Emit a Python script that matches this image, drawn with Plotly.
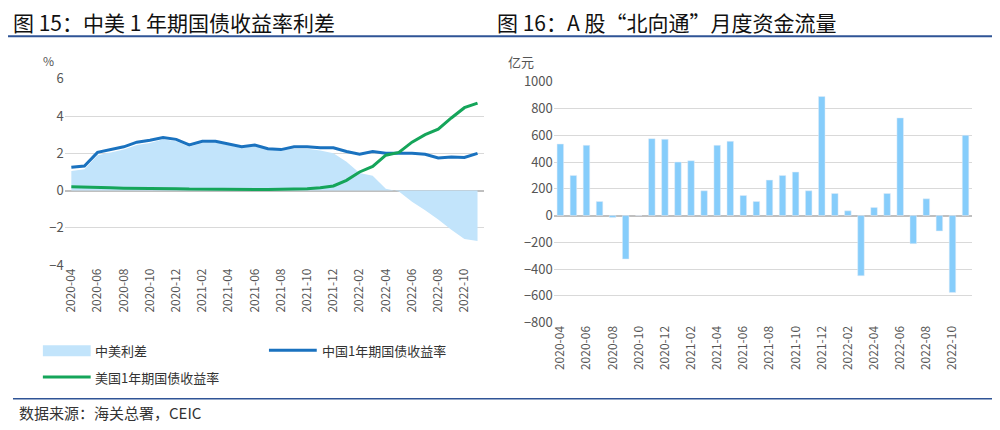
import plotly.graph_objects as go

months = [f"{y}-{m:02d}" for y, m in
          [(2020, m) for m in range(4, 13)] + [(2021, m) for m in range(1, 13)] + [(2022, m) for m in range(1, 12)]]
cn_yield = [1.25,1.32,2.05,2.2,2.35,2.6,2.7,2.85,2.75,2.45,2.65,2.65,2.5,2.35,2.45,2.25,2.2,2.35,2.35,2.3,2.3,2.1,1.95,2.1,2.0,2.0,2.0,1.95,1.75,1.8,1.78,2.0]
us_yield = [0.2,0.17,0.17,0.15,0.13,0.13,0.12,0.1,0.1,0.08,0.07,0.06,0.05,0.04,0.05,0.06,0.07,0.08,0.1,0.15,0.25,0.55,1.0,1.3,1.9,2.05,2.6,3.0,3.3,3.9,4.45,4.7]
spread = [1.05,1.15,1.9,2.05,2.2,2.45,2.55,2.75,2.65,2.35,2.55,2.6,2.45,2.3,2.4,2.2,2.15,2.25,2.25,2.15,2.0,1.55,0.95,0.8,0.1,-0.05,-0.6,-1.05,-1.55,-2.1,-2.6,-2.7]
flows = [535,300,525,105,-15,-325,0,575,570,400,410,185,525,555,150,105,265,300,325,185,890,165,35,-450,60,165,730,-210,125,-115,-575,600]
tick_labels = months[::2]

W, H, OFF = 984, 414, 8
def px(x):  # desired screen x -> paper fraction (empirical correction)
    return (x - 1 - OFF) / W
def py(y):
    t = (y - 7.9) / 0.963
    return 1 - (t - OFF) / H

FONT = "Noto Sans CJK SC"
fig = go.Figure()
fig.add_trace(go.Scatter(x=months, y=spread, fill="tozeroy", mode="none", fillcolor="#c2e4fb", name="中美利差", xaxis="x", yaxis="y"))
fig.add_trace(go.Scatter(x=months, y=cn_yield, mode="lines", line=dict(color="#1a72bf", width=3), name="中国1年期国债收益率", xaxis="x", yaxis="y"))
fig.add_trace(go.Scatter(x=months, y=us_yield, mode="lines", line=dict(color="#15a55a", width=3), name="美国1年期国债收益率", xaxis="x", yaxis="y"))
fig.add_trace(go.Bar(x=months, y=flows, marker_color="#86cdfb", width=0.5, xaxis="x2", yaxis="y2"))

ax = dict(type="category", tickvals=tick_labels, ticktext=tick_labels, tickangle=-90, range=[-0.5, len(months) - 0.5],
          tickfont=dict(size=12, color="#555"), showgrid=False, showline=False, ticks="", zeroline=False)
fig.update_layout(
    width=W, height=H, margin=dict(l=0, r=0, t=0, b=0), plot_bgcolor="white", paper_bgcolor="white",
    showlegend=False, font=dict(family=FONT, color="#333"), bargap=0.5,
    xaxis=dict(ax, domain=[px(62), px(483)], anchor="y"),
    yaxis=dict(domain=[py(265), py(77)], range=[-4, 6], dtick=2, gridcolor="#d9d9d9", zeroline=True, zerolinecolor="#bfbfbf",
               zerolinewidth=1.5, tickfont=dict(size=13, color="#555"), anchor="x"),
    xaxis2=dict(ax, domain=[px(553), px(973)], anchor="y2"),
    yaxis2=dict(domain=[py(323), py(80)], range=[-800, 1000], dtick=200, gridcolor="#d9d9d9", zeroline=True, zerolinecolor="#bfbfbf",
                zerolinewidth=1.5, tickfont=dict(size=13, color="#555"), anchor="x2"),
)
ann = [
    dict(x=8, y=20, text="图 15：中美 1 年期国债收益率利差", size=21, color="#111"),
    dict(x=494, y=20, text="图 16：A 股“北向通”月度资金流量", size=21, color="#111"),
    dict(x=38, y=58, text="%", size=12, color="#555"),
    dict(x=505, y=60, text="亿元", size=13, color="#555"),
    dict(x=14, y=414, text="数据来源：海关总署，CEIC", size=15, color="#333"),
    dict(x=90, y=351, text="中美利差", size=13, color="#333"),
    dict(x=318, y=351, text="中国1年期国债收益率", size=13, color="#333"),
    dict(x=90, y=378, text="美国1年期国债收益率", size=13, color="#333"),
]
for a in ann:
    fig.add_annotation(xref="paper", yref="paper", xanchor="left", yanchor="middle", showarrow=False,
                       x=px(a["x"]), y=py(a["y"]), text=a["text"], font=dict(size=a["size"], color=a["color"]))
shapes = [
    dict(type="line", x0=5, x1=995, y0=34, y1=34, line=dict(color="#2f5496", width=2)),
    dict(type="line", x0=10, x1=995, y0=400, y1=400, line=dict(color="#2f5496", width=1.5)),
    dict(type="rect", x0=40, x1=88, y0=346, y1=357, fillcolor="#c2e4fb", line=dict(width=0)),
    dict(type="line", x0=267, x1=315, y0=351, y1=351, line=dict(color="#1a72bf", width=3)),
    dict(type="line", x0=40, x1=88, y0=378, y1=378, line=dict(color="#15a55a", width=3)),
]
for s in shapes:
    d = dict(s)
    d["x0"], d["x1"] = px(s["x0"]), px(s["x1"])
    d["y0"], d["y1"] = py(s["y0"]), py(s["y1"])
    fig.add_shape(xref="paper", yref="paper", **d)
fig.write_html("out.html")
